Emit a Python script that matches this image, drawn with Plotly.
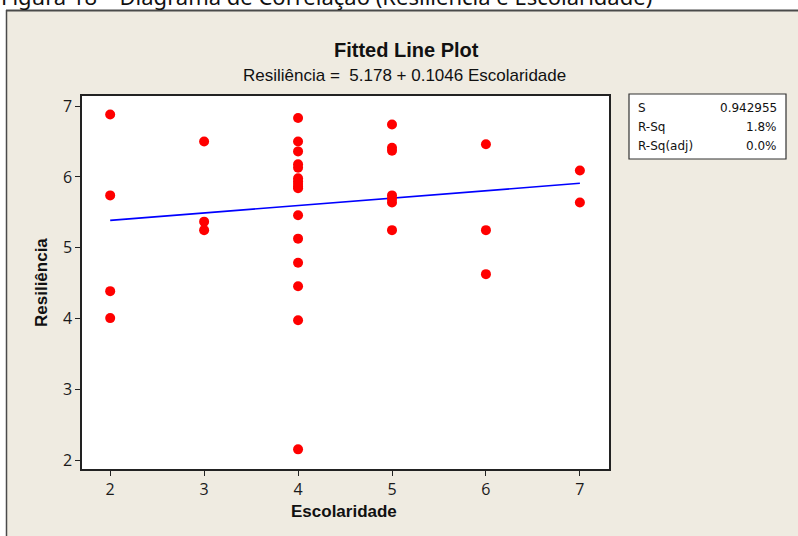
import plotly.graph_objects as go

# ---- data ----
escolaridade = [2, 2, 2, 2,
                3, 3, 3,
                4, 4, 4, 4, 4, 4, 4, 4, 4, 4, 4, 4, 4, 4, 4, 4,
                5, 5, 5, 5, 5, 5, 5,
                6, 6, 6,
                7, 7]
resiliencia = [6.88, 5.74, 4.39, 4.01,
               6.50, 5.37, 5.25,
               6.83, 6.50, 6.36, 6.18, 6.13, 5.98, 5.94, 5.90, 5.86, 5.84, 5.46, 5.13, 4.79, 4.46, 3.98, 2.16,
               6.74, 6.41, 6.37, 5.74, 5.69, 5.64, 5.25,
               6.46, 5.25, 4.63,
               6.09, 5.64]
intercept = 5.178
slope = 0.1046
fit_x = [2, 7]
stats_labels = ["S", "R-Sq", "R-Sq(adj)"]
stats_values = ["0.942955", "1.8%", "0.0%"]
x_ticks = [2, 3, 4, 5, 6, 7]
y_ticks = [2, 3, 4, 5, 6, 7]

W, H = 798, 536
L, R, T, B = 82, 609, 96, 469
pw, ph = R - L, B - T


def px(x):
    return (x - L) / pw


def py(y):
    return (B - y) / ph


fit_y = [intercept + slope * v for v in fit_x]

fig = go.Figure()
fig.add_trace(go.Scatter(x=fit_x, y=fit_y, mode="lines",
                         line=dict(color="#0000FF", width=1.6),
                         hoverinfo="skip", showlegend=False))
fig.add_trace(go.Scatter(x=escolaridade, y=resiliencia, mode="markers",
                         marker=dict(color="#FF0000", size=10, line=dict(width=0)),
                         showlegend=False))

BEIGE = "#EFEBE1"
NARROW = "Liberation Sans Narrow, Arial Narrow, Liberation Sans, sans-serif"

shapes = [
    dict(type="rect", xref="paper", yref="paper", x0=px(-20), x1=px(820), y0=py(10), y1=py(-20),
         fillcolor="white", line=dict(width=0), layer="below"),
    dict(type="rect", xref="paper", yref="paper", x0=px(-20), x1=px(6), y0=py(560), y1=py(-20),
         fillcolor="white", line=dict(width=0), layer="below"),
    dict(type="line", xref="paper", yref="paper", x0=px(6), x1=px(820), y0=py(10.5), y1=py(10.5),
         line=dict(color="#4a4a4a", width=2), layer="below"),
    dict(type="line", xref="paper", yref="paper", x0=px(6.5), x1=px(6.5), y0=py(10), y1=py(560),
         line=dict(color="#4a4a4a", width=1.5), layer="below"),
    dict(type="rect", xref="paper", yref="paper", x0=px(629), x1=px(786), y0=py(159), y1=py(94),
         fillcolor="white", line=dict(color="#333333", width=1.2), layer="above"),
]

annotations = [
    dict(text="Figura 18 – Diagrama de Correlação (Resiliência e Escolaridade)",
         xref="paper", yref="paper", x=px(-1), y=py(-4), xanchor="left", yanchor="middle",
         showarrow=False, font=dict(family="Noto Sans", size=22, color="#111111")),
    dict(text="<b>Fitted Line Plot</b>", xref="paper", yref="paper", x=px(406), y=py(50),
         xanchor="center", yanchor="middle", showarrow=False,
         font=dict(family=NARROW, size=20, color="#111111")),
    dict(text="Resiliência =  5.178 + 0.1046 Escolaridade", xref="paper", yref="paper",
         x=px(404), y=py(76), xanchor="center", yanchor="middle", showarrow=False,
         font=dict(family=NARROW, size=17, color="#111111")),
    dict(text="<b>Escolaridade</b>", xref="paper", yref="paper", x=px(344), y=py(511),
         xanchor="center", yanchor="middle", showarrow=False,
         font=dict(family=NARROW, size=17, color="#111111")),
    dict(text="<b>Resiliência</b>", xref="paper", yref="paper", x=px(41), y=py(283),
         xanchor="center", yanchor="middle", showarrow=False, textangle=-90,
         font=dict(family=NARROW, size=17, color="#111111")),
]

row_y = [108, 127, 146]
for lab, val, ry in zip(stats_labels, stats_values, row_y):
    annotations.append(dict(text=lab, xref="paper", yref="paper", x=px(636), y=py(ry),
                            xanchor="left", yanchor="middle", showarrow=False,
                            font=dict(family="DejaVu Sans", size=12, color="#111111")))
    annotations.append(dict(text=val, xref="paper", yref="paper", x=px(779), y=py(ry),
                            xanchor="right", yanchor="middle", showarrow=False,
                            font=dict(family="DejaVu Sans", size=12, color="#111111")))

axis_common = dict(showgrid=False, zeroline=False, showline=True, mirror=True,
                   linecolor="#222222", linewidth=1.5, ticks="outside", ticklen=5,
                   tickcolor="#222222", tickwidth=1.2,
                   tickfont=dict(family="Open Sans", size=16, color="#1a1a1a"))

fig.update_layout(
    width=W, height=H,
    margin=dict(l=L, r=W - R, t=T, b=H - B, pad=0),
    paper_bgcolor=BEIGE, plot_bgcolor="white",
    xaxis=dict(range=[1.70, 7.31], tickvals=x_ticks, **axis_common),
    yaxis=dict(range=[1.883, 7.141], tickvals=y_ticks, **axis_common),
    shapes=shapes, annotations=annotations,
    showlegend=False,
)

fig.write_html("out.html")
